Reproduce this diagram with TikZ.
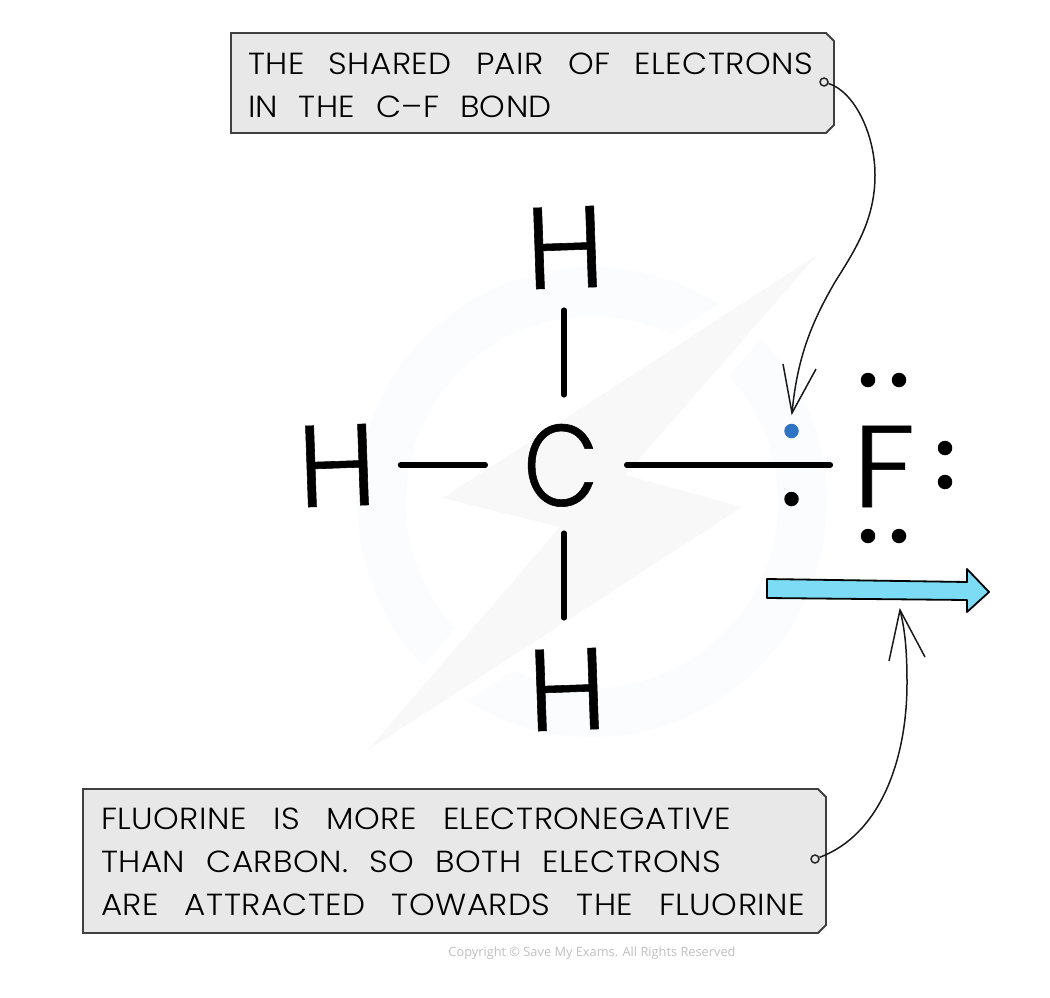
\documentclass[tikz,border=0pt]{standalone}
\usepackage{fontspec}
\setmainfont{Poppins}
\newfontfamily\labelfont[UprightFont=* Light,LetterSpace=1.5,FakeStretch=1.07]{Poppins}
\newfontfamily\atomfont[UprightFont=* Light,FakeBold=0.5]{Poppins}
\newfontfamily\copyfont{Open Sans}
\usetikzlibrary{shapes.misc,calc}
\definecolor{boxfill}{HTML}{E8E8E8}
\definecolor{boxline}{HTML}{404040}
\definecolor{wm}{HTML}{FBFCFE}
\definecolor{wmbolt}{HTML}{F8F8F9}
\definecolor{elec}{HTML}{2F74C4}
\definecolor{arrowblue}{HTML}{7DDCF5}
\newcommand{\fitline}[2]{\makebox[#1pt][s]{#2}}
\newcommand{\lines}[3]{\raisebox{#2pt}[0pt][0pt]{\begin{minipage}{#1pt}\baselineskip=43pt\relax #3\end{minipage}}}
\tikzset{
 x=1pt,y=-1pt,
 callout/.style={draw=boxline,line width=1.8pt,fill=boxfill,chamfered rectangle,chamfered rectangle corners={north east,south east},chamfered rectangle xsep=8.5pt,chamfered rectangle ysep=8pt,inner sep=0pt,font=\labelfont\fontsize{30.5}{43}\selectfont,text=black},
 atom/.style={font=\atomfont\fontsize{116}{116}\selectfont,inner sep=0pt,text height=82pt,text depth=0pt},
 bond/.style={line width=5.5pt,line cap=round},
 elecdot/.style={circle,fill=black,minimum size=14.5pt,inner sep=0pt},
 lead/.style={line width=1.5pt,black!90},
 pin/.style={circle,draw=black!85,line width=1.5pt,fill=boxfill,minimum size=8pt,inner sep=0pt},
}
\begin{document}
\begin{tikzpicture}
\useasboundingbox (0,0) rectangle (1050,998);
% watermark
\fill[wm,even odd rule] (592,502) circle (235) (592,502) circle (186);
\path[fill=white,draw=white,line width=26pt,line join=miter] (817,255) -- (443,498) -- (560,527) -- (368,750) -- (742,507) -- (625,475) -- cycle;
\fill[wmbolt] (817,255) -- (443,498) -- (560,527) -- (368,750) -- (742,507) -- (625,475) -- cycle;
% callouts
\node[callout,minimum width=603pt,minimum height=100pt] (top) at (532.5,83) {\hspace{-4pt}\lines{565}{-8.5}{\fitline{565}{THE\hfill SHARED\hfill PAIR\hfill OF\hfill ELECTRONS}\\\fitline{304}{IN\hfill THE\hfill C–F\hfill BOND}}};
\node[callout,minimum width=743pt,minimum height=144pt] (bottom) at (454.5,861) {\hspace{-3pt}\lines{704}{-7.5}{\fitline{630}{FLUORINE\hfill IS\hfill MORE\hfill ELECTRONEGATIVE}\\\fitline{620}{THAN\hfill CARBON.\hfill SO\hfill BOTH\hfill ELECTRONS}\\\fitline{704}{ARE\hfill ATTRACTED\hfill TOWARDS\hfill THE\hfill FLUORINE}}};
% atoms
\node[atom,xscale=.84] (C) at (561,465) {C};
\node[atom,rotate=2] (Ht) at (565,247) {H};
\node[atom,rotate=2] (Hl) at (337,465) {H};
\node[atom,rotate=2] (Hb) at (567,689) {H};
\node[atom,xscale=1.1] (F) at (884,466) {F};
% bonds
\draw[bond,shorten <=22pt,shorten >=29pt] (Ht.south -| 564,0) -- (564,0 |- C.north);
\draw[bond,shorten <=27pt,shorten >=30pt] (564,0 |- C.south) -- (564,0 |- Hb.north);
\draw[bond,shorten <=24pt,shorten >=38pt] (Hl.east |- 0,465) -- (C.west |- 0,465);
\draw[bond,shorten <=28pt,shorten >=22pt] (C.east |- 0,465) -- (F.west |- 0,465);
% electrons
\node[elecdot,fill=elec] (e1) at (791.5,431) {};
\node[elecdot] (e2) at (791.5,499) {};
\node[elecdot] (f1) at (868,380) {};
\node[elecdot] (f2) at (899,380) {};
\node[elecdot] (f3) at (945,448) {};
\node[elecdot] (f4) at (945,482) {};
\node[elecdot] (f5) at (868,536) {};
\node[elecdot] (f6) at (899,536) {};
% block arrow
\draw[fill=arrowblue,line width=1.8pt,line join=round] (767,579) -- (967,582) -- (967,569) -- (989,592) -- (967,612) -- (967,600) -- (767,598) -- cycle;
% leaders
\node[pin] (p1) at (824,82) {};
\node[pin] (p2) at (815,859) {};
\coordinate (t1) at (792,413);
\coordinate (t2) at (900,610);
\draw[lead] (p1) .. controls (855,92) and (875,135) .. (875,175) .. controls (875,220) and (855,250) .. (835,282) .. controls (810,325) and (797,360) .. (t1);
\draw[lead] (783,364) -- (t1) -- (816,369);
\draw[lead] (p2) .. controls (880,835) and (907,760) .. (907,683) .. controls (907,650) and (905,630) .. (t2);
\draw[lead] (889,661) -- (t2) -- (925,657);
\node[font=\copyfont\fontsize{12.8}{14}\selectfont,text=black!25,inner sep=0pt] (copy) at (592,953.5) {Copyright © Save My Exams. All Rights Reserved};
\end{tikzpicture}
\end{document}
